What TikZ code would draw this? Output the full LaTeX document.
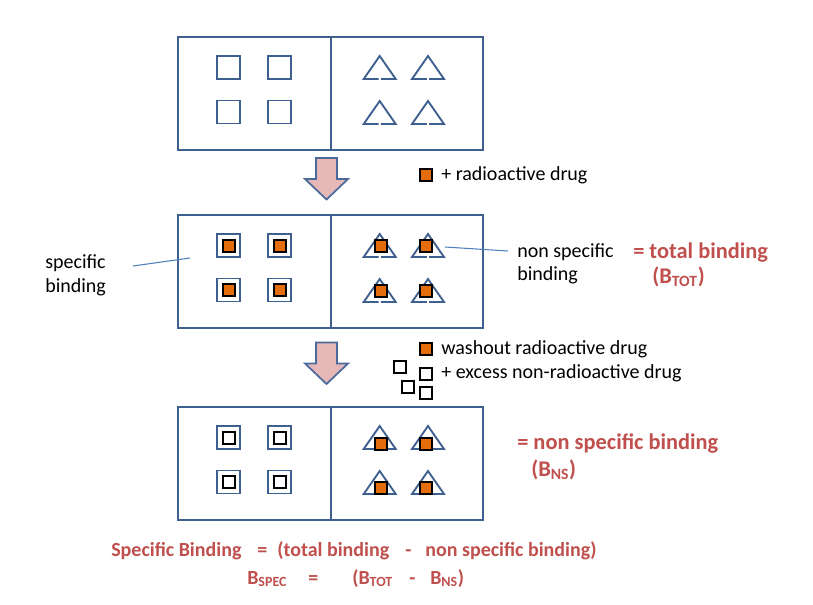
\documentclass[tikz,border=0pt]{standalone}
\usepackage{fontspec}
\setmainfont{Carlito}
\definecolor{panelblue}{RGB}{62,96,143}
\definecolor{leaderblue}{RGB}{79,129,189}
\definecolor{arrowblue}{RGB}{74,106,156}
\definecolor{drugorange}{RGB}{228,108,10}
\definecolor{textred}{RGB}{192,80,77}
\definecolor{arrowpink}{RGB}{230,185,184}
\tikzset{
  panel/.style={draw=panelblue,line width=1.5pt},
  receptor/.style={draw=panelblue,line width=1.4pt,line join=miter},
  drug/.style={draw=black,fill=drugorange,line width=1.5pt},
  colddrug/.style={draw=black,fill=white,line width=1.5pt},
  flowarrow/.style={draw=arrowblue,fill=arrowpink,line width=1.3pt,line join=miter},
  leader/.style={draw=leaderblue,line width=0.8pt},
  txt/.style={inner sep=0pt,anchor=base west,font=\fontsize{15}{18}\selectfont},
  redtxt/.style={inner sep=0pt,anchor=base west,text=textred,font=\bfseries\fontsize{16.8}{20}\selectfont},
  formula/.style={inner sep=0pt,anchor=base west,text=textred,font=\bfseries\fontsize{15}{18}\selectfont},
  recsq/.pic={\draw[receptor] (-11.5,-11.5) rectangle (11.5,11.5);},
  tri/.pic={\draw[receptor] (-1.2,11.5) -- (-16,11.5) -- (0,-11.5) -- (16,11.5) -- (1.2,11.5);},
  hot/.pic={\draw[drug] (-6,-6) rectangle (6,6);},
  cold/.pic={\draw[colddrug] (-6,-6) rectangle (6,6);},
}
\begin{document}
\begin{tikzpicture}[x=0.75pt,y=-0.75pt]
\useasboundingbox[fill=white] (0,0) rectangle (813,604);

% ---- panels ----
\foreach \T in {36,214,406}{
  \begin{scope}[shift={(0,\T)}]
    \draw[panel] (178,1) rectangle (483,113.5);
    \draw[panel] (331,1) -- (331,113.5);
    \foreach \cx in {228.5,279.5}{
      \foreach \cy in {31.5,76}{
        \pic at (\cx,\cy) {recsq};
      }
    }
    \foreach \cx in {379.7,428}{
      \foreach \cy in {31.5,76.5}{
        \pic at (\cx,\cy) {tri};
      }
    }
  \end{scope}
}

% ---- middle panel drugs ----
\begin{scope}[shift={(0,214)}]
  \foreach \cx in {228.5,279.5}{
    \foreach \cy in {31.5,76}{
      \pic at (\cx,\cy) {hot};
    }
  }
  \foreach \cx in {381,426.3}{
    \foreach \cy in {32.3,76.5}{
      \pic at (\cx,\cy) {hot};
    }
  }
\end{scope}

% ---- bottom panel drugs ----
\begin{scope}[shift={(0,406)}]
  \foreach \cx in {228.5,279.5}{
    \foreach \cy in {31.5,76}{
      \pic at (\cx,\cy) {cold};
    }
  }
  \foreach \cx in {381.3,426.3}{
    \foreach \cy in {37.8,82.3}{
      \pic at (\cx,\cy) {hot};
    }
  }
\end{scope}

% ---- flow arrows ----
\foreach \s in {0,184.5}{
  \begin{scope}[shift={(0,\s)}]
    \draw[flowarrow] (316,158) -- (337,158) -- (337,179) -- (348,179) -- (326.5,199.5) -- (305,179) -- (316,179) -- cycle;
  \end{scope}
}

% ---- legends ----
\pic at (426,175) {hot};
\node[txt] (radio) at (441,180) {+ radioactive drug};
\pic at (426,349) {hot};
\node[txt] (wash) at (441,354) {washout radioactive drug};
\pic at (400.3,367.3) {cold};
\pic at (426,374.2) {cold};
\pic at (407.7,386.7) {cold};
\pic at (426,392.8) {cold};
\node[txt] (excess) at (441,378) {+ excess non-radioactive drug};

% ---- side labels ----
\node[txt] (spec1) at (45,268) {specific};
\node[txt] (spec2) at (45,292) {binding};
\coordinate (sbA) at (133,266);
\coordinate (sbB) at (190,258);
\draw[leader] (sbA) -- (sbB);
\node[txt] (nspec1) at (517,257) {non specific};
\node[txt] (nspec2) at (517,280) {binding};
\coordinate (nsA) at (445,247);
\coordinate (nsB) at (508,251);
\draw[leader] (nsA) -- (nsB);

% ---- red results ----
\node[redtxt] (tot1) at (633,258.5) {= total binding};
\node[redtxt] (tot2) at (652,283.5) {(B\textsubscript{TOT})};
\node[redtxt] (ns1) at (517,449.5) {= non specific binding};
\node[redtxt] (ns2) at (531,476.5) {(B\textsubscript{NS})};

% ---- formula ----
\node[formula] (f1a) at (111,556.5) {Specific Binding};
\node[formula] (f1b) at (257,556.5) {=};
\node[formula] (f1c) at (277,556.5) {(total binding};
\node[formula] (f1d) at (405,556.5) {-};
\node[formula] (f1e) at (425,556.5) {non specific binding)};
\node[formula] (f2a) at (247,584) {B\textsubscript{SPEC}};
\node[formula] (f2b) at (308,584) {=};
\node[formula] (f2c) at (352,584) {(B\textsubscript{TOT}};
\node[formula] (f2d) at (409,584) {-};
\node[formula] (f2e) at (430,584) {B\textsubscript{NS})};
\end{tikzpicture}
\end{document}
